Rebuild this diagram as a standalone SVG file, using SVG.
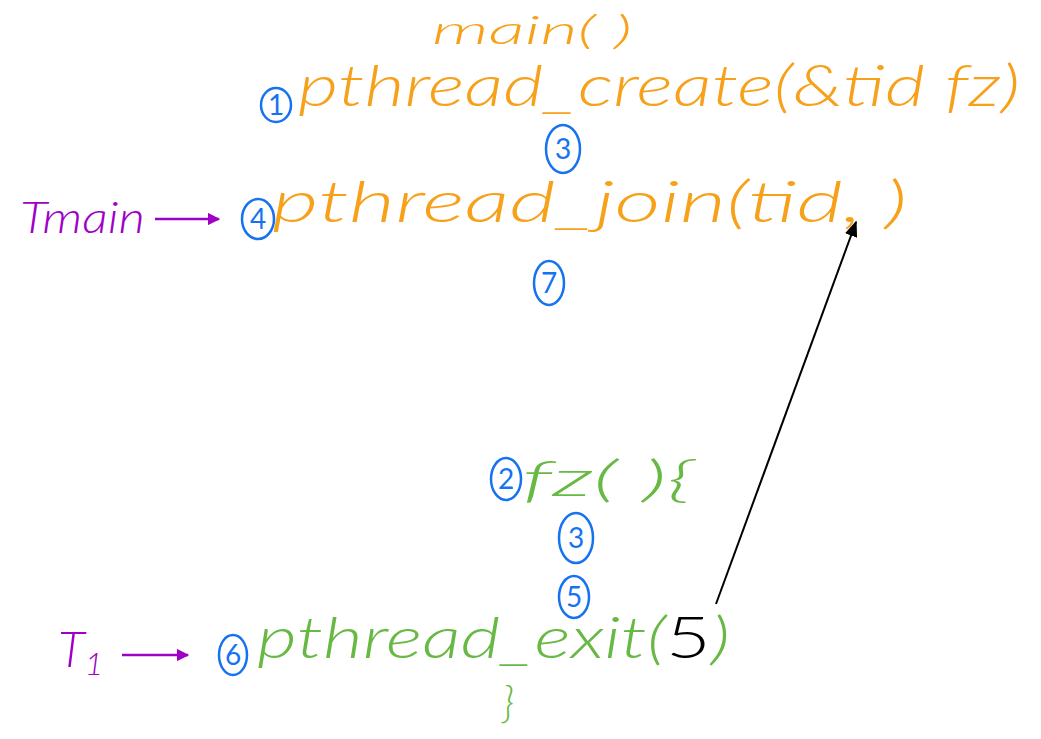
<svg xmlns="http://www.w3.org/2000/svg" width="1041" height="739" viewBox="0 0 1041 739">
<style>
text{font-family:Lato,"Liberation Sans",sans-serif;font-style:italic;font-weight:300}
.or{fill:#f7a01a}
.gr{fill:#68b844}
.pu{fill:#a000c6}
.bk{fill:#000}
.num ellipse{fill:none;stroke:#1672f0;stroke-width:2.5}
.num text{fill:#1672f0;font-size:28px;text-anchor:middle;font-style:normal;font-weight:400}
</style>
<defs>
<marker id="ap" viewBox="0 0 10 10" refX="9" refY="5" markerWidth="5" markerHeight="5" orient="auto"><path d="M0,0L10,5L0,10z" fill="#a000c6"/></marker>
<marker id="ak" viewBox="0 0 10 10" refX="9" refY="5" markerWidth="8" markerHeight="8" orient="auto"><path d="M0,1L10,5L0,9z" fill="#000"/></marker>
</defs>
<g id="main">
<text class="or" x="432" y="44" font-size="40" textLength="200" lengthAdjust="spacingAndGlyphs">main( )</text>
</g>
<g id="create">
<text class="or" x="298" y="106" font-size="58" textLength="722" lengthAdjust="spacingAndGlyphs">pthread_create(&amp;tid  fz)</text>
</g>
<g id="join">
<text class="or" x="272" y="222" font-size="58" textLength="635" lengthAdjust="spacingAndGlyphs">pthread_join(tid,    )</text>
</g>
<g id="tmain">
<text class="pu" x="20" y="233" font-size="44" textLength="125" lengthAdjust="spacingAndGlyphs">Tmain</text>
</g>
<g id="fz">
<text class="gr" x="522" y="496" font-size="50" textLength="172" lengthAdjust="spacingAndGlyphs">fz( ){</text>
</g>
<g id="exit">
<text class="gr" x="257" y="658" font-size="58" textLength="473" lengthAdjust="spacingAndGlyphs">pthread_exit(<tspan class="bk" font-style="normal">5</tspan>)</text>
<text class="gr" x="502" y="718" font-size="44">}</text>
</g>
<g id="t1">
<text class="pu" x="58" y="667" font-size="50">T<tspan font-size="32" dy="8">1</tspan></text>
</g>
<g id="n1" class="num"><ellipse cx="276" cy="105" rx="15" ry="17"/><text x="276" y="115">1</text></g>
<g id="n3a" class="num"><ellipse cx="563" cy="149" rx="17" ry="24"/><text x="563" y="159">3</text></g>
<g id="n4" class="num"><ellipse cx="258" cy="219" rx="16" ry="20"/><text x="258" y="229">4</text></g>
<g id="n7" class="num"><ellipse cx="549" cy="283" rx="15" ry="22"/><text x="549" y="293">7</text></g>
<g id="n2" class="num"><ellipse cx="506" cy="479" rx="15" ry="21"/><text x="506" y="489">2</text></g>
<g id="n3b" class="num"><ellipse cx="576" cy="538" rx="17" ry="25"/><text x="576" y="548">3</text></g>
<g id="n5" class="num"><ellipse cx="574" cy="597" rx="15" ry="21"/><text x="574" y="607">5</text></g>
<g id="n6" class="num"><ellipse cx="233" cy="655" rx="14" ry="20"/><text x="233" y="665">6</text></g>
<g id="connectors">
<line x1="155" y1="219" x2="219" y2="219" stroke="#a000c6" stroke-width="2.5" marker-end="url(#ap)"/>
<line x1="122" y1="655" x2="188" y2="655" stroke="#a000c6" stroke-width="2.5" marker-end="url(#ap)"/>
<line x1="716" y1="604" x2="856" y2="222" stroke="#000" stroke-width="2" marker-end="url(#ak)"/>
</g>
</svg>
